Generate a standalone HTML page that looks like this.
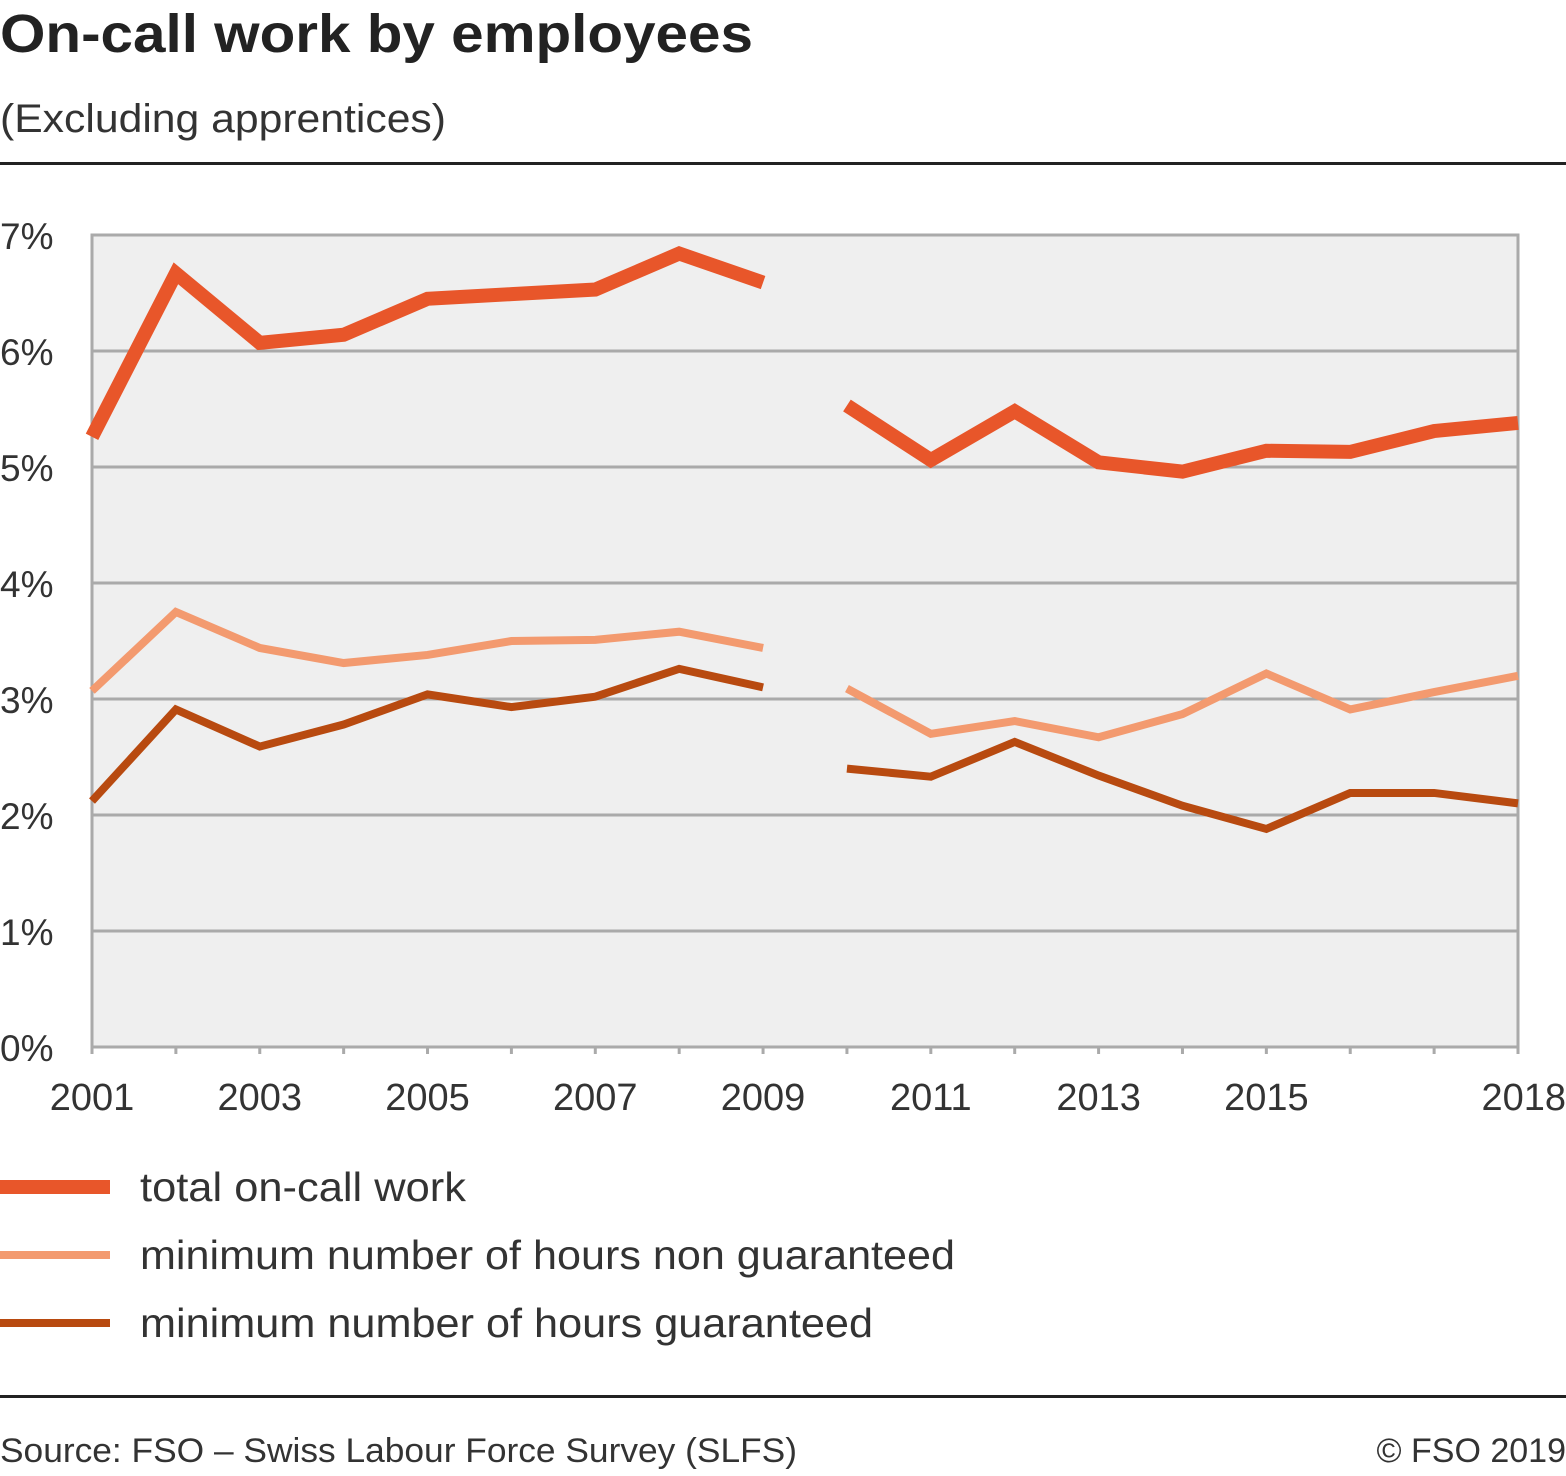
<!DOCTYPE html>
<html><head><meta charset="utf-8"><style>
body{margin:0;width:1566px;height:1471px;background:#fff;overflow:hidden;font-family:"Liberation Sans",sans-serif;}
svg text{font-family:"Liberation Sans",sans-serif;}
</style></head><body>
<svg id="chart" width="1566" height="1471">
<text x="0" y="52" font-size="54" font-weight="bold" fill="#222" textLength="753" lengthAdjust="spacingAndGlyphs">On-call work by employees</text>
<text x="0" y="132" font-size="40" fill="#333" textLength="446" lengthAdjust="spacingAndGlyphs">(Excluding apprentices)</text>
<rect x="0" y="162" width="1566" height="3" fill="#222"/>
<rect x="0" y="1395" width="1566" height="3" fill="#222"/>
<text x="0" y="1462" font-size="34" fill="#333" textLength="797" lengthAdjust="spacingAndGlyphs">Source: FSO – Swiss Labour Force Survey (SLFS)</text>
<text x="1566" y="1462" font-size="34" fill="#333" text-anchor="end">© FSO 2019</text>
<g id="plot"></g>
<g id="legend"></g>
</svg>
<script>
const years=[2001,2002,2003,2004,2005,2006,2007,2008,2009,2010,2011,2012,2013,2014,2015,2016,2017,2018];
const totalOnCall=[5.26,6.67,6.07,6.14,6.45,6.49,6.53,6.84,6.59,5.53,5.06,5.48,5.04,4.96,5.14,5.13,5.31,5.38];
const nonGuaranteed=[3.07,3.75,3.44,3.31,3.38,3.50,3.51,3.58,3.44,3.09,2.70,2.81,2.67,2.87,3.22,2.91,3.06,3.20];
const guaranteed=[2.12,2.91,2.59,2.78,3.04,2.93,3.02,3.26,3.10,2.40,2.33,2.63,2.34,2.08,1.88,2.19,2.19,2.10];
const yTicks=[0,1,2,3,4,5,6,7];
const xLabels=[2001,2003,2005,2007,2009,2011,2013,2015,2018];
const breakAfter=2009;
const legendWidths=[466,955,873];
const NS="http://www.w3.org/2000/svg";
const X0=92,X1=1518,Y0=1047,Y1=235;
const x=v=>X0+(v-years[0])/(years[years.length-1]-years[0])*(X1-X0);
const y=v=>Y0-v/7*(Y0-Y1);
const g=document.getElementById('plot');
function mk(t,a,p){const e=document.createElementNS(NS,t);for(const k in a)e.setAttribute(k,a[k]);(p||g).appendChild(e);return e;}
const bg=mk('rect',{x:X0,y:Y1,width:X1-X0,height:Y0-Y1,fill:'#efefef',stroke:'#aaa','stroke-width':3});


yTicks.forEach(t=>{
  if(t>0&&t<7){const l=mk('line',{x1:X0,x2:X1,y1:y(t),y2:y(t),stroke:'#aaa','stroke-width':3});
  
  }
  const tx=mk('text',{x:0,y:y(t)+14,'font-size':37,fill:'#333'});tx.textContent=t+'%';
  
  
});
years.forEach(yr=>{const l=mk('line',{x1:x(yr),x2:x(yr),y1:Y0,y2:Y0+7,stroke:'#aaa','stroke-width':3});
  
  });
xLabels.forEach(yr=>{const tx=mk('text',{x:yr===2018?1566:x(yr),y:1110,'font-size':38,fill:'#333','text-anchor':yr===2018?'end':'middle'});tx.textContent=yr;
  
  });
const series=[
 {name:'total on-call work',vals:totalOnCall,c:'#e8562a',w:14,id:'total'},
 {name:'minimum number of hours non guaranteed',vals:nonGuaranteed,c:'#f39a6f',w:8,id:'non-guaranteed'},
 {name:'minimum number of hours guaranteed',vals:guaranteed,c:'#b84a10',w:8,id:'guaranteed'}];
series.forEach((s,i)=>{
  const segs=[[],[]];
  years.forEach((yr,j)=>segs[yr<=breakAfter?0:1].push(x(yr)+','+y(s.vals[j])));
  segs.forEach(sg=>{const p=mk('polyline',{points:sg.join(' '),fill:'none',stroke:s.c,'stroke-width':s.w,'stroke-linejoin':'miter'});
    
    });
  const L=document.getElementById('legend');
  const ly=1187+i*68;
  const r=mk('rect',{x:0,y:ly-s.w/2,width:110,height:s.w,fill:s.c},L);
  
  
  const t=mk('text',{x:140,y:ly+14,'font-size':41,fill:'#333',textLength:legendWidths[i]-140,lengthAdjust:'spacingAndGlyphs'},L);t.textContent=s.name;
  
  
});
</script>
</body></html>
